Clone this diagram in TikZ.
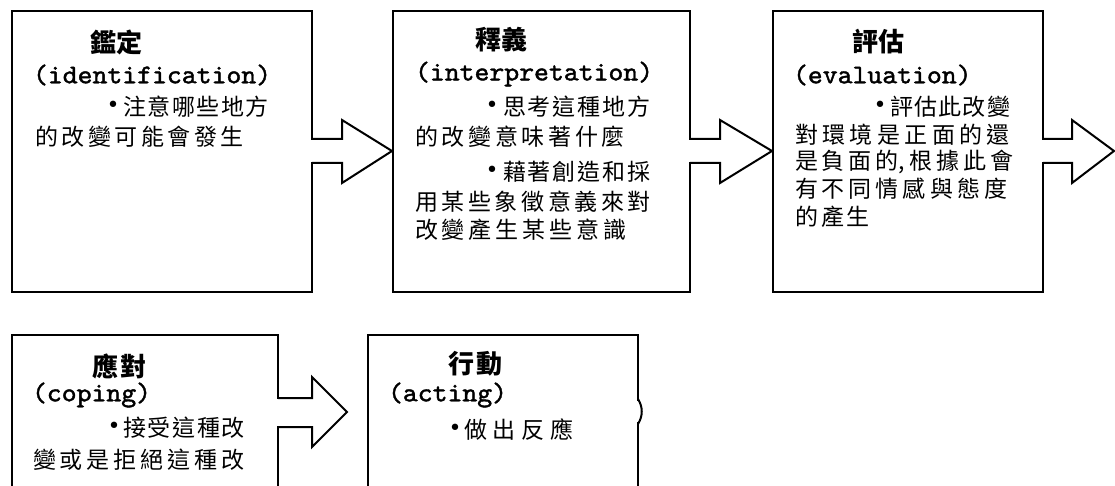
\documentclass[tikz,border=0pt]{standalone}
\usepackage{fontspec}
\usetikzlibrary{calc}
\newfontfamily\cjk{Noto Sans CJK TC}
\newfontfamily\dvs{DejaVu Sans}
\newfontfamily\lat{lmmono10-regular.otf}[FakeStretch=1.05, FakeBold=1.5]
% spread the characters of #2 evenly over a width of #1 pt
\def\sprA#1#2\sprnil{#1\ifx\relax#2\relax\else\hfill\sprA#2\sprnil\fi}
\newcommand\spr[2]{\hbox to #1pt{\sprA#2\sprnil}}
\tikzset{
  boxst/.style={draw, line width=2pt, fill=white, inner sep=0pt, outer sep=0pt, anchor=north west},
  txt/.style={inner sep=0pt, outer sep=0pt, anchor=west},
  cj/.style={txt, font=\cjk\fontsize{23}{23}\selectfont},
  ttl/.style={txt, font=\cjk\bfseries\fontsize{26}{26}\selectfont},
  lt/.style={txt, font=\lat\fontsize{27}{27}\selectfont},
  bul/.style={inner sep=0pt, outer sep=0pt, font=\dvs\fontsize{22}{22}\selectfont},
  arr/.style={line width=2pt, line join=miter},
  erase/.style={fill=white},
}
\begin{document}
\begin{tikzpicture}[x=1pt, y=-1pt]
\clip (0,0) rectangle (1115,486);
\fill[white] (0,0) rectangle (1115,486);

% boxes
\node[boxst, minimum width=300pt, minimum height=281pt] (b1) at (12,11) {};
\node[boxst, minimum width=297pt, minimum height=281pt] (b2) at (393,11) {};
\node[boxst, minimum width=270pt, minimum height=281pt] (b3) at (773,11) {};
\node[boxst, minimum width=266pt, minimum height=200pt] (b4) at (12,335) {};
\node[boxst, minimum width=270pt, minimum height=200pt] (b5) at (368,335) {};
\coordinate (end3) at (1114,151);

% block arrows (top row)
\foreach \s/\t in {b1/b2, b2/b3} {
  \fill[erase] ($(\s.north east)+(-2,129.2)$) rectangle ($(\s.north east)+(2,150.8)$);
  \draw[arr] ($(\s.north east)+(0,128)$) -- ++(30,0) -- ++(0,-19)
     -- ($(\t.north west)+(-1,140)$) -- ($(\s.north east)+(30,172)$)
     -- ++(0,-20) -- ++(-30,0);
}
\fill[erase] ($(b3.north east)+(-2,129.2)$) rectangle ($(b3.north east)+(2,150.8)$);
\draw[arr] ($(b3.north east)+(0,128)$) -- ++(29,0) -- ++(0,-19)
   -- (end3) -- ($(b3.north east)+(29,172)$) -- ++(0,-20) -- ++(-29,0);

% block arrow (bottom row)
\fill[erase] ($(b4.north east)+(-2,64.2)$) rectangle ($(b4.north east)+(2,90.8)$);
\draw[arr] ($(b4.north east)+(0,63)$) -- ++(34,0) -- ++(0,-21)
   -- ($(b4.north east)+(69,77)$) -- ($(b4.north east)+(34,112)$)
   -- ++(0,-20) -- ++(-34,0);

% small bump on the right side of the last box
\fill[white] ($(b5.north east)+(-1.2,66)$) rectangle ($(b5.north east)+(1.2,87)$);
\draw[line width=2pt] ($(b5.north east)+(0,64)$) .. controls ($(b5.north east)+(5,72)$) and ($(b5.north east)+(5,81)$) .. ($(b5.north east)+(0,89)$);

% box 1 text
\node[ttl] (t1) at (90,42) {\spr{53}{鑑定}};
\node[lt]  (l1) at (33,75) {(identification)};
\node[bul] (p1) at (113,107) {•};
\node[cj]  (c1a) at (123,107) {\spr{146}{注意哪些地方}};
\node[cj]  (c1b) at (35,137) {\spr{209}{的改變可能會發生}};

% box 2 text
\node[ttl] (t2) at (475,40) {\spr{53}{釋義}};
\node[lt]  (l2) at (415,74) {(interpretation)};
\node[bul] (p2a) at (492,107) {•};
\node[cj]  (c2a) at (503,107) {\spr{147}{思考這種地方}};
\node[cj]  (c2b) at (415,137) {\spr{210}{的改變意味著什麼}};
\node[bul] (p2b) at (492,172) {•};
\node[cj]  (c2c) at (503,172) {\spr{147}{藉著創造和採}};
\node[cj]  (c2d) at (415,202) {\spr{236}{用某些象徵意義來對}};
\node[cj]  (c2e) at (415,230) {\spr{212}{改變產生某些意識}};

% box 3 text
\node[ttl] (t3) at (852,42) {\spr{52}{評估}};
\node[lt]  (l3) at (793,75) {(evaluation)};
\node[bul] (p3) at (880,107) {•};
\node[cj]  (c3a) at (890,107) {\spr{120}{評估此改變}};
\node[cj]  (c3b) at (795,135) {\spr{215}{對環境是正面的還}};
\node[cj]  (c3c) at (795,162) {\spr{218}{是負面{的,}根據此會}};
\node[cj]  (c3d) at (795,189) {\spr{212}{有不同情感與態度}};
\node[cj]  (c3e) at (795,217) {\spr{75}{的產生}};

% box 4 text
\node[ttl] (t4) at (92,366) {\spr{55}{應對}};
\node[lt]  (l4) at (32,395) {(coping)};
\node[bul] (p4) at (114,428) {•};
\node[cj]  (c4a) at (123,428) {\spr{122}{接受這種改}};
\node[cj]  (c4b) at (33,460) {\spr{212}{變或是拒絕這種改}};

% box 5 text
\node[ttl] (t5) at (448,364) {\spr{55}{行動}};
\node[lt]  (l5) at (388,395) {(acting)};
\node[bul] (p5) at (455,430) {•};
\node[cj]  (c5a) at (464,430) {\spr{110}{做出反應}};
\end{tikzpicture}
\end{document}
